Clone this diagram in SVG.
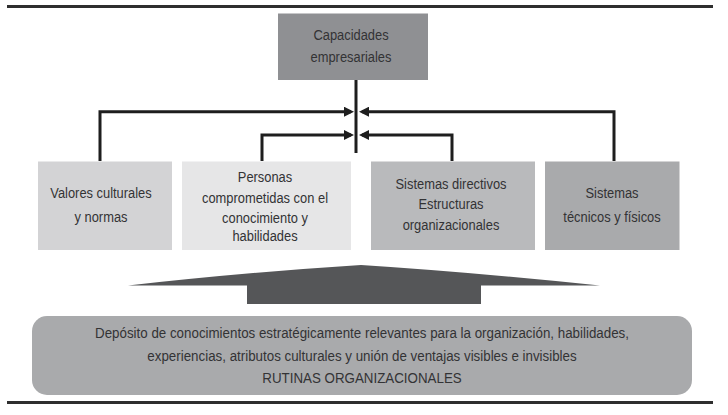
<svg xmlns="http://www.w3.org/2000/svg" width="728" height="415" viewBox="0 0 728 415">
<defs>
<marker id="ah" viewBox="0 0 10 10" refX="7" refY="5" markerWidth="10" markerHeight="10" markerUnits="userSpaceOnUse" orient="auto">
<path d="M0,0 L10,5 L0,10 z" fill="#1e1e1e"/>
</marker>
</defs>
<style>
text{font-family:"Liberation Sans",Arial,sans-serif;font-size:15px;fill:#333335;text-anchor:middle}
.rule{stroke:#2e2e2e;stroke-width:3}
.conn{fill:none;stroke:#1e1e1e;stroke-width:3;stroke-linejoin:miter}
</style>
<rect width="728" height="415" fill="#ffffff"/>
<line class="rule" x1="7" y1="6.5" x2="713" y2="6.5"/>
<line class="rule" x1="7" y1="402.5" x2="713" y2="402.5"/>

<g id="capacidades">
<rect x="278" y="13.5" width="150" height="66.5" fill="#8f9093"/>
<g transform="translate(351,0) scale(0.86,1)">
<text x="0" y="40">Capacidades</text>
<text x="0" y="62">empresariales</text>
</g>
</g>

<g id="valores">
<rect x="38" y="161.5" width="134" height="88.5" fill="#d3d3d5"/>
<g transform="translate(101,0) scale(0.86,1)">
<text x="0" y="198.5">Valores culturales</text>
<text x="0" y="222">y normas</text>
</g>
</g>

<g id="personas">
<rect x="182" y="161.5" width="169" height="88.5" fill="#e6e6e7"/>
<g transform="translate(265,0) scale(0.86,1)">
<text x="0" y="182">Personas</text>
<text x="0" y="203">comprometidas con el</text>
<text x="0" y="223">conocimiento y</text>
<text x="0" y="241.5">habilidades</text>
</g>
</g>

<g id="sistemas-directivos">
<rect x="371" y="161.5" width="164" height="88.5" fill="#b9babc"/>
<g transform="translate(451,0) scale(0.86,1)">
<text x="0" y="189.5">Sistemas directivos</text>
<text x="0" y="209.5">Estructuras</text>
<text x="0" y="230">organizacionales</text>
</g>
</g>

<g id="sistemas-tecnicos">
<rect x="545" y="161.5" width="134.5" height="88.5" fill="#a9aaac"/>
<g transform="translate(612,0) scale(0.86,1)">
<text x="0" y="198">Sistemas</text>
<text x="0" y="222">técnicos y físicos</text>
</g>
</g>

<g id="connectors">
<path class="conn" d="M356,80 V153"/>
<path class="conn" d="M100,161 V111.7 H351" marker-end="url(#ah)"/>
<path class="conn" d="M262,161 V135 H351" marker-end="url(#ah)"/>
<path class="conn" d="M452,161 V135 H362" marker-end="url(#ah)"/>
<path class="conn" d="M614,161 V111.7 H362" marker-end="url(#ah)"/>
</g>

<g id="flecha">
<path d="M361,265 Q470,272 600,285.5 L481,285.5 L481,304 L247,304 L247,285.5 L128,285.5 Q250,272 361,265 z" fill="#555658"/>
</g>

<g id="rutinas">
<rect x="32" y="316" width="660" height="79" rx="15" ry="15" fill="#a9aaac"/>
<g transform="translate(362,0) scale(0.89,1)">
<text x="0" y="338.5">Depósito de conocimientos estratégicamente relevantes para la organización, habilidades,</text>
<text x="0" y="361">experiencias, atributos culturales y unión de ventajas visibles e invisibles</text>
<text x="0" y="383.5">RUTINAS ORGANIZACIONALES</text>
</g>
</g>
</svg>
